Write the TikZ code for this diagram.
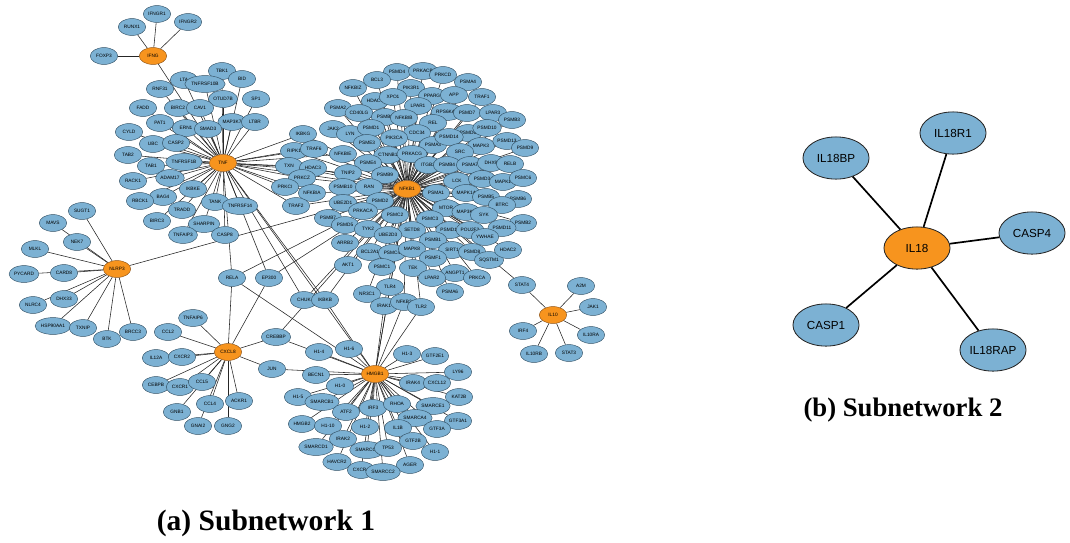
\documentclass[tikz,border=0pt]{standalone}
\usepackage{fontspec}
\setmainfont{Liberation Serif}
\setsansfont{Liberation Sans}
\usetikzlibrary{shapes.geometric,backgrounds}
\definecolor{genefill}{RGB}{124,177,211}
\definecolor{genedraw}{RGB}{50,80,100}
\definecolor{hubfill}{RGB}{247,148,30}
\definecolor{hubdraw}{RGB}{140,80,20}
\begin{document}
\begin{tikzpicture}[x=0.025cm,y=-0.025cm,
	gene/.style={ellipse, draw=genedraw, line width=0.3pt, fill=genefill, inner xsep=0.4pt, inner ysep=0pt, minimum width=19.5pt, minimum height=12pt, font=\sffamily\fontsize{3.4}{3.8}\selectfont},
	hub/.style={gene, fill=hubfill, draw=hubdraw},
	link/.style={line width=0.4pt, black!85},
	big/.style={ellipse, draw=black!85, line width=0.6pt, fill=genefill, minimum width=47pt, minimum height=30pt, inner sep=0pt, font=\sffamily\fontsize{8.3}{9}\selectfont},
	bighub/.style={big, fill=hubfill},
	biglink/.style={line width=1.2pt},
	caption/.style={font=\bfseries\fontsize{19}{22}\selectfont}]
	\useasboundingbox (0,0) rectangle (1070,542);

	% subnetwork 1: hubs
	\foreach \n/\x/\y in {IFNG/153/56, TNF/223/163, NFKB1/407/189, NLRP3/117/269, CXCL8/228/352, HMGB1/375/374, IL10/553/315}
		\node[hub] (\n) at (\x,\y) {\n};

	% TNF and IFNG side
	\foreach \n/\x/\y in {IFNGR1/157/14, RUNX1/132/27, IFNGR2/188/22, FOXP3/104/56,
		TBK1/222/71, LTA/184/80, TNFRSF10B/205/84, BID/242/79, RNF31/160/89, SP1/256/99, OTUD7B/223/99,
		FADD/143/108, BIRC2/178/108, CAV1/200/108, MAP3K7/232/122, LTBR/255/122, PAT1/160/123,
		ERN1/186/128, SMAD3/208/129, CYLD/129/132, UBC/153/144, CASP2/176/143, TAB2/128/155,
		TAB1/151/166, TNFRSF1B/184/162, RACK1/133/181, ADAM17/170/178, IKBKE/193/189, BAG4/163/197,
		RBCK1/140/201, TANK/215/202, TNFRSF14/240/206, TRADD/182/210, BIRC3/157/221, SHARPIN/204/224,
		TNFAIP3/183/235, CASP8/225/235,
		IKBKG/303/134, RIPK1/294/151, TRAF6/314/149, TXN/289/166, HDAC3/313/168, PRKCZ/302/178,
		PRKCI/285/187, NFKBIA/312/193, TRAF2/296/206,
		RELA/232/278, EP300/269/278, CHUK/304/300, IKBKB/325/300}
		\node[gene] (\n) at (\x,\y) {\n};

	% NFKB1 side
	\foreach \n/\x/\y in {PSMD4/397/72, PRKACB/423/71, PRKCD/443/75, BCL3/377/80, PSMA4/468/82,
		NFKBIZ/353/88, PIK3R1/411/88, HDAC1/375/101, XPO1/393/97, PPARG/432/96, APP/454/95, TRAF1/482/97,
		PSMA2/338/108, CD40LG/359/113, LPAR1/418/106, RPS6KA5/447/112, PSMD7/467/113, LPAR3/493/113,
		PSMB8/385/117, NFKBIB/404/118, REL/433/123, PSMB3/512/120, JAK2/333/129, LYN/350/134,
		PSMD1/371/128, CDC34/417/133, PSMD6/468/133, PSMD10/487/128, PSME3/367/143, PIK3CA/394/138,
		PSMA3/433/145, PSMD14/449/137, MAPK3/481/146, PSMD13/507/141, PSMD9/525/148,
		NFKBIE/343/154, CTNNB1/388/155, PRKACG/412/154, SRC/460/152, PSME4/368/163, ITGB2/428/165,
		PSMB4/447/165, PSMA7/470/165, DHX9/491/163, RELB/510/164, TNIP2/348/173, PSMB9/385/175,
		LCK/457/181, PSMD3/482/179, MAPK1/503/182, PSMC6/523/178, PSMB10/343/187, RAN/369/187,
		PSMA1/436/193, MAPK14/466/193, PSMB5/486/197, PSMB6/518/199, BTRC/502/205, UBE2D1/343/203,
		PSMD2/380/201, PRKACA/363/211, MTOR/446/208, MAP3K8/466/212, SYK/484/215, PSMC2/395/215,
		PSMC3/430/219, PSMB7/328/218, PSMB2/523/223, PSMD5/345/225, TYK2/368/229, SETD8/412/230,
		PSMD12/450/230, POU2F2/470/230, PSMD11/502/228, UBE2D3/388/235, PSMB1/433/240, YWHAE/485/237,
		ARRB2/345/243, BCL2A1/370/252, PSMC4/392/253, MAPK8/412/249, SIRT1/452/250, PSMD8/472/252,
		SQSTM1/489/260, HDAC2/508/250, PSMF1/433/258, AKT1/348/265, PSMC1/382/267, TEK/413/268,
		ANGPT1/455/273, LPAR2/432/278, PRKCA/477/278, PSMA6/450/292, TLR4/390/287, NR3C1/367/294,
		IRAK1/384/306, NFKB2/404/302, TLR2/421/307}
		\node[gene] (\n) at (\x,\y) {\n};

	% NLRP3, CXCL8, HMGB1, IL10 sides
	\foreach \n/\x/\y in {SUGT1/82/211, MAVS/53/223, NEK7/77/242, MLKL/35/249, PYCARD/24/274,
		CARD8/64/273, DHX33/64/299, NLRC4/33/305, HSP90AA1/53/326, TXNIP/83/328, BTK/107/339, BRCC3/133/332,
		TNFAIP6/193/318, CCL2/168/332, CREBBP/276/337, IL12A/156/358, CXCR2/182/357, JUN/272/369,
		CEBPB/156/385, CXCR1/180/387, CCL5/202/382, GNB1/177/412, CCL4/210/404, ACKR1/239/401,
		GNAI2/198/426, GNG2/228/426,
		H1-4/319/352, H1-6/349/349, H1-3/407/354, GTF2E1/435/356, LY96/458/372, BECN1/316/375,
		H1-0/340/386, IRAK4/413/383, CXCL12/437/383, KAT2B/459/397, H1-5/298/397, SMARCB1/322/402,
		ATF2/346/412, IRF3/373/408, RHOA/397/404, SMARCE1/433/406, SMARCA4/415/418, GTF3A1/458/421,
		HMGB2/302/424, H1-10/328/426, H1-2/365/427, IL1B/398/428, GTF3A/437/429, SMARCD1/316/447,
		IRAK2/343/439, SMARCC1/367/450, TP53/388/448, GTF2B/413/441, H1-1/435/452, HAVCR2/337/462,
		AGER/410/465, CXCR4/361/470, SMARCC2/383/472,
		STAT4/522/285, A2M/581/286, JAK1/593/307, IRF4/523/331, IL10RA/591/335, IL10RB/534/354, STAT3/569/353}
		\node[gene] (\n) at (\x,\y) {\n};

	\begin{pgfonlayer}{background}
		\foreach \b in {IFNGR1,RUNX1,IFNGR2,FOXP3,TNF}
			\draw[link] (IFNG) -- (\b);
		\foreach \b in {TBK1,LTA,TNFRSF10B,BID,RNF31,SP1,OTUD7B,FADD,BIRC2,CAV1,MAP3K7,LTBR,PAT1,ERN1,SMAD3,CYLD,UBC,CASP2,TAB2,TAB1,TNFRSF1B,RACK1,ADAM17,IKBKE,BAG4,RBCK1,TANK,TNFRSF14,TRADD,BIRC3,SHARPIN,TNFAIP3,CASP8,IKBKG,RIPK1,TRAF6,TXN,HDAC3,PRKCZ,PRKCI,NFKBIA,TRAF2,NFKBIE,TNIP2,RELA,EP300,CHUK,IKBKB,HMGB1,NFKB1}
			\draw[link] (TNF) -- (\b);
		\foreach \b in {PSMD4,PRKACB,PRKCD,BCL3,PSMA4,NFKBIZ,PIK3R1,HDAC1,XPO1,PPARG,APP,TRAF1,PSMA2,CD40LG,LPAR1,RPS6KA5,PSMD7,LPAR3,PSMB8,NFKBIB,REL,PSMB3,JAK2,LYN,PSMD1,CDC34,PSMD6,PSMD10,PSME3,PIK3CA,PSMA3,PSMD14,MAPK3,PSMD13,PSMD9,NFKBIE,CTNNB1,PRKACG,SRC,PSME4,ITGB2,PSMB4,PSMA7,DHX9,RELB,TNIP2,PSMB9,LCK,PSMD3,MAPK1,PSMC6,PSMB10,RAN,PSMA1,MAPK14,PSMB5,PSMB6,BTRC,UBE2D1,PSMD2,PRKACA,MTOR,MAP3K8,SYK,PSMC2,PSMC3,PSMB7,PSMB2,PSMD5,TYK2,SETD8,PSMD12,POU2F2,PSMD11,UBE2D3,PSMB1,YWHAE,ARRB2,BCL2A1,PSMC4,MAPK8,SIRT1,PSMD8,SQSTM1,HDAC2,PSMF1,AKT1,PSMC1,TEK,ANGPT1,LPAR2,PRKCA,PSMA6,TLR4,NR3C1,IRAK1,NFKB2,TLR2,IKBKG,RIPK1,TRAF6,TXN,HDAC3,PRKCZ,NFKBIA,TRAF2,RELA,EP300,CHUK,IKBKB,CREBBP,STAT4,NLRP3,HMGB1}
			\draw[link] (NFKB1) -- (\b);
		\foreach \b in {SUGT1,MAVS,NEK7,MLKL,PYCARD,CARD8,DHX33,NLRC4,HSP90AA1,TXNIP,BTK,BRCC3}
			\draw[link] (NLRP3) -- (\b);
		\foreach \b in {TNFAIP6,CCL2,IL12A,CXCR2,CEBPB,CXCR1,CCL5,GNB1,CCL4,GNAI2,GNG2,ACKR1,CREBBP,JUN,RELA,EP300}
			\draw[link] (CXCL8) -- (\b);
		\foreach \b in {H1-4,H1-6,H1-3,GTF2E1,LY96,BECN1,H1-0,IRAK4,CXCL12,KAT2B,H1-5,SMARCB1,ATF2,IRF3,RHOA,SMARCE1,SMARCA4,GTF3A1,HMGB2,H1-10,H1-2,IL1B,GTF3A,SMARCD1,IRAK2,SMARCC1,TP53,GTF2B,H1-1,HAVCR2,AGER,CXCR4,SMARCC2,TLR4,TLR2,IRAK1,NFKB2,CREBBP,JUN,RELA,IKBKB}
			\draw[link] (HMGB1) -- (\b);
		\foreach \b in {STAT4,A2M,JAK1,IRF4,IL10RA,IL10RB,STAT3}
			\draw[link] (IL10) -- (\b);
	\end{pgfonlayer}

	% subnetwork 2
	\node[bighub] (IL18) at (917,248) {IL18};
	\node[big] (IL18BP) at (836,158) {IL18BP};
	\node[big] (IL18R1) at (953,133) {IL18R1};
	\node[big] (CASP4) at (1032,233) {CASP4};
	\node[big] (IL18RAP) at (993,350) {IL18RAP};
	\node[big] (CASP1) at (826,325) {CASP1};
	\foreach \b in {IL18BP,IL18R1,CASP4,IL18RAP,CASP1}
		\draw[biglink] (IL18) -- (\b);

	\node[caption, font=\bfseries\fontsize{21}{24}\selectfont] (capa) at (266,523) {(a) Subnetwork 1};
	\node[caption] (capb) at (903,410) {(b) Subnetwork 2};
\end{tikzpicture}
\end{document}
